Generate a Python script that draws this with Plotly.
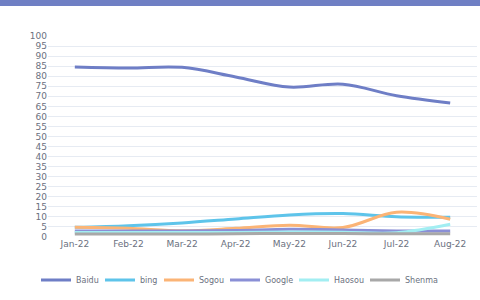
import plotly.graph_objects as go

months = ["Jan-22", "Feb-22", "Mar-22", "Apr-22", "May-22", "Jun-22", "Jul-22", "Aug-22"]
baidu = [84.6, 84.1, 84.4, 79.6, 74.6, 76.0, 70.3, 66.7]
bing = [4.8, 5.6, 7.0, 9.0, 11.0, 11.7, 10.1, 9.8]
sogou = [4.9, 4.4, 3.1, 4.3, 5.9, 4.7, 12.3, 8.8]
google = [3.0, 3.0, 3.0, 3.2, 3.8, 3.5, 3.0, 3.0]
haosou = [2.2, 2.2, 2.2, 2.3, 2.5, 2.4, 2.1, 6.3]
shenma = [1.5, 1.5, 1.5, 1.6, 1.8, 1.7, 1.6, 1.6]

series = [
    ("Baidu", baidu, "#6e7ec6", 19),
    ("bing", bing, "#5ec4ea", 14),
    ("Sogou", sogou, "#fbb476", 21),
    ("Google", google, "#8a8fd6", 24),
    ("Haosou", haosou, "#a2eef2", 26),
    ("Shenma", shenma, "#a8a8a8", 34),
]

fig = go.Figure()
for name, vals, col, lw in series:
    fig.add_trace(go.Scatter(x=months, y=vals, name=name, mode="lines", legendwidth=lw,
                             line=dict(color=col, width=3, shape="spline", smoothing=1.0)))

fig.update_layout(
    width=480, height=300,
    margin=dict(l=48, r=3, t=36, b=63, autoexpand=False),
    paper_bgcolor="white", plot_bgcolor="white",
    font=dict(family="DejaVu Sans", size=9, color="#6b7180"),
    showlegend=True,
    legend=dict(orientation="h", xref="container", yref="container",
                x=0.5, xanchor="center", y=(300 - 280) / 300, yanchor="middle",
                font=dict(size=8, color="#6b7180"), itemwidth=30, tracegroupgap=0,
                entrywidthmode="pixels"),
    xaxis=dict(type="category", range=[-0.5, 7.5], showgrid=False, showline=False,
               ticks="", tickfont=dict(size=9)),
    yaxis=dict(range=[0, 100], dtick=5, showgrid=True, gridcolor="#e6ebf3", gridwidth=1,
               zeroline=False, showline=False, ticks="", tickfont=dict(size=9)),
    shapes=[dict(type="rect", xref="paper", yref="paper", x0=-0.12, x1=1.02,
                 y0=(237 - 6) / 201, y1=1.2, fillcolor="#6f7fc4", line=dict(width=0),
                 layer="above")],
)

fig.write_html("out.html")
